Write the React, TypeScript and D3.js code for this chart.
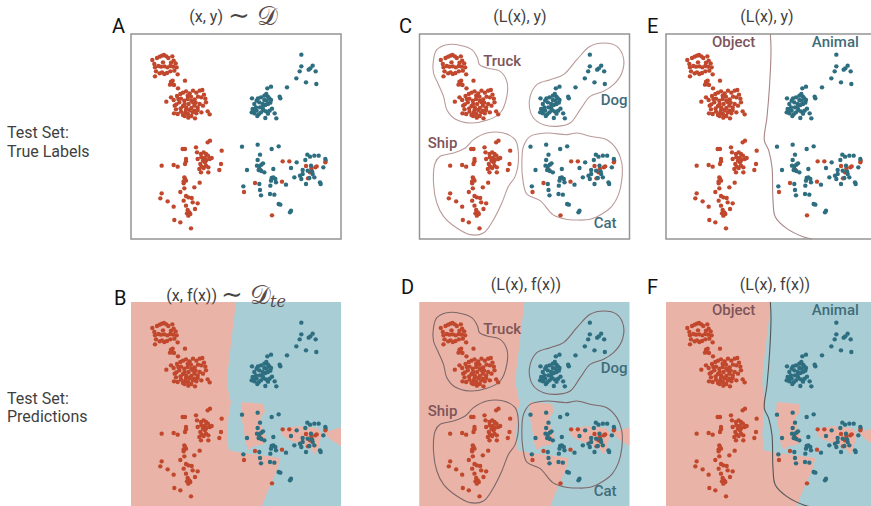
import * as d3 from "d3";

const W = 871;
const H = 506;
const PW = 210;
const PH = 205;

// embedding coordinates (same layout in every panel), domain 0..630 x 0..615
const truckPts = [
  [64,78],[78,72],[86,68],[93,65],[99,63],[106,67],[112,72],[124,67],[128,80],[134,88],[137,100],[127,98],[118,96],[109,100],[100,97],[90,98],[82,96],[72,100],[70,90],[75,112],[72,127],[86,118],[93,115],[100,120],[108,117],[118,112],[130,110],[140,121],[120,86],[96,85],
  [120,143],[125,140],[117,152],[123,150],[129,153],[162,140],[141,163],
  [106,203],[120,190],[128,198],[138,186],[148,180],[156,176],[165,172],[176,178],[186,170],[196,176],[206,170],[214,168],[219,182],[223,194],[211,190],[201,188],[191,196],[181,200],[170,195],[160,200],[150,194],[145,205],[136,211],[131,215],[135,226],[129,238],[140,240],[150,233],[156,243],[163,235],[171,240],[176,228],[181,222],[190,215],[200,220],[206,210],[216,215],[225,205],[211,235],[196,238],[192,253],[181,246],[166,221],[156,216],[149,223],[161,210],[173,210],[186,205],[194,206],[230,232],[236,241],[172,251],[161,246],[190,230],[200,228],[170,185],[180,188],[142,195],[165,228],[185,235],
];
const shipPts = [
  [237,320],[230,325],[155,345],[162,345],[195,340],[198,355],[210,360],[218,355],[225,360],[231,365],[221,372],[211,370],[216,380],[226,378],[236,375],[242,372],[272,350],[270,390],[265,408],[165,375],[165,382],[162,390],[208,390],[212,398],[218,402],[225,395],[232,400],[205,405],[210,415],[232,415],[92,395],[128,393],[140,398],[160,430],[162,435],[158,442],[165,440],[158,448],[206,446],[190,460],[160,463],[148,474],[92,478],[88,493],[110,502],[128,518],[165,486],[172,490],[182,492],[158,500],[185,505],[200,508],[192,525],[170,528],[175,535],[168,538],[178,540],[172,545],[165,515],[130,558],[148,565],[180,583],[222,385],[200,375],
];
const dogPts = [
  [511,62],[511,97],[506,112],[533,107],[545,95],[538,103],[554,112],[496,133],[525,145],[556,150],[468,160],[446,188],[448,193],[409,163],[420,158],[363,193],[381,193],[390,190],[400,185],[406,180],[411,188],[415,193],[420,198],[418,206],[411,210],[403,213],[395,210],[385,205],[377,200],[370,210],[365,225],[362,235],[370,238],[377,230],[383,241],[390,235],[397,228],[405,232],[411,239],[416,230],[423,224],[403,252],[436,253],[431,238],[375,220],[387,220],[395,222],[370,229],[379,246],[407,200],[400,198],
];
const catTealPts = [
  [333,338],[380,332],[422,345],[443,337],[387,362],[380,378],[378,395],[385,397],[391,392],[396,388],[383,408],[391,411],[400,415],[427,405],[348,408],[422,432],[427,430],[433,435],[420,440],[435,445],[418,455],[465,452],[490,430],[507,425],[511,435],[497,385],[480,402],[515,408],[523,378],[529,362],[537,368],[550,365],[563,365],[583,375],[577,400],[540,395],[543,412],[550,430],[535,432],[525,450],[567,445],[569,450],[337,457],[385,450],[387,468],[390,484],[417,480],[430,482],[443,510],[448,512],[477,535],[480,530],[530,410],[545,420],[515,420],
];
const catRedPts = [
  [455,382],[475,382],[388,408],[372,447],[339,474],[453,443],[423,544],[525,396],[541,404],[553,400],[557,397],[531,433],[584,380],[583,385],[537,415],
];

const redPts = [...truckPts, ...shipPts, ...catRedPts];
const tealPts = [...dogPts, ...catTealPts];

// cluster outlines in L(x) space
const truckOutline = [[42,77],[52,47],[82,32],[127,35],[157,47],[174,72],[180,92],[202,102],[242,112],[262,142],[262,187],[242,237],[202,259],[152,267],[107,255],[82,227],[72,187],[57,152],[42,117]];
const dogOutline = [[332,187],[352,152],[392,137],[432,122],[472,77],[512,37],[552,27],[592,37],[612,72],[607,117],[582,152],[552,172],[512,187],[482,227],[452,267],[412,277],[372,272],[342,252],[330,222]];
const shipOutline = [[47,387],[62,367],[102,357],[137,342],[162,317],[202,297],[252,297],[287,317],[297,367],[287,427],[267,457],[247,507],[222,557],[192,597],[152,602],[112,582],[72,547],[52,507],[42,447]];
const catOutline = [[312,337],[332,307],[382,297],[442,302],[472,297],[512,307],[562,317],[592,347],[607,387],[607,437],[597,482],[577,517],[547,540],[512,556],[472,558],[432,554],[400,542],[362,500],[322,480],[310,437],[307,387]];

const clusterNames = ["Truck", "Dog", "Ship", "Cat"];
const clusterKinds = ["object", "animal", "object", "animal"];
const clusterOutlines = [truckOutline, dogOutline, shipOutline, catOutline];
const clusterLabelAt = [[248,96],[584,213],[69,342],[557,582]];

const superNames = ["Object", "Animal"];
const superKinds = ["object", "animal"];
const superLabelAt = [[203,40],[508,40]];
const superSplit = [[313,0],[315,49],[311,149],[303,249],[295,319],[308,349],[318,399],[321,499],[328,549],[363,584],[413,609],[438,615]];

// regions predicted as "object" by f
const predRedRegions = [
  [[0,0],[315,0],[310,40],[303,100],[296,160],[290,210],[289,250],[296,285],[300,300],[293,340],[289,400],[293,445],[330,452],[380,458],[448,468],[440,500],[422,540],[405,580],[392,615],[0,615]],
  [[332,300],[398,306],[402,330],[388,348],[395,380],[405,410],[395,428],[368,432],[352,445],[343,420],[338,380],[330,340]],
  [[455,382],[500,372],[530,376],[560,378],[572,395],[562,440],[552,458],[535,432],[505,425],[470,412],[452,398]],
  [[578,392],[630,376],[630,432],[600,414]],
];

const RED = "#c1482d";
const TEAL = "#2d6e80";
const RED_BG = "#e9b4a7";
const TEAL_BG = "#a9cdd5";
const TXT = "#3f3f3f";
const OBJ_TXT = "#7e545a";
const ANI_TXT = "#3f6c79";
const FONT = "Roboto, 'Noto Sans', sans-serif";
const MATH = "'DejaVu Serif', serif";

function Panel({ x0, y0, pred, clusters, split, lineColor, frame }) {
  const sx = d3.scaleLinear([0, 630], [x0, x0 + PW]);
  const sy = d3.scaleLinear([0, 615], [y0, y0 + PH]);
  const poly = d3.line((d) => sx(d[0]), (d) => sy(d[1])).curve(d3.curveLinearClosed);
  const blob = d3.line((d) => sx(d[0]), (d) => sy(d[1])).curve(d3.curveCatmullRomClosed.alpha(0.5));
  const open = d3.line((d) => sx(d[0]), (d) => sy(d[1])).curve(d3.curveCatmullRom.alpha(0.5));
  return (
    <g>
      {pred ? (
        <g>
          <rect x={x0} y={y0} width={PW} height={PH} fill={TEAL_BG} />
          {predRedRegions.map((r, i) => (
            <path key={i} d={poly(r)} fill={RED_BG} />
          ))}
        </g>
      ) : (
        <rect x={x0} y={y0} width={PW} height={PH} fill="#fff" />
      )}
      {clusters &&
        clusterOutlines.map((o, i) => (
          <path key={i} d={blob(o)} fill="none" stroke={lineColor} strokeWidth={1.1} />
        ))}
      {split && <path d={open(superSplit)} fill="none" stroke={lineColor} strokeWidth={1.1} />}
      <g fill={RED}>
        {redPts.map((d, i) => (
          <circle key={i} cx={sx(d[0])} cy={sy(d[1])} r={2.2} />
        ))}
      </g>
      <g fill={TEAL}>
        {tealPts.map((d, i) => (
          <circle key={i} cx={sx(d[0])} cy={sy(d[1])} r={2.2} />
        ))}
      </g>
      {clusters &&
        clusterNames.map((n, i) => (
          <text key={n} x={sx(clusterLabelAt[i][0])} y={sy(clusterLabelAt[i][1])} textAnchor="middle"
            fontFamily={FONT} fontSize={15} fontWeight={500}
            fill={clusterKinds[i] === "object" ? OBJ_TXT : ANI_TXT}>{n}</text>
        ))}
      {split &&
        superNames.map((n, i) => (
          <text key={n} x={sx(superLabelAt[i][0])} y={sy(superLabelAt[i][1])} textAnchor="middle"
            fontFamily={FONT} fontSize={15} fontWeight={500}
            fill={superKinds[i] === "object" ? OBJ_TXT : ANI_TXT}>{n}</text>
        ))}
      {frame && <rect x={x0} y={y0} width={PW} height={PH} fill="none" stroke="#949494" strokeWidth={1.5} />}
    </g>
  );
}

function Letter({ x, y, c }) {
  return <text x={x} y={y} fontFamily={FONT} fontSize={20} fill="#111">{c}</text>;
}

function Title({ x, y, t }) {
  return <text x={x} y={y} textAnchor="middle" fontFamily={FONT} fontSize={16} fill={TXT}>{t}</text>;
}

export default function App() {
  return (
    <svg width={W} height={H} style={{ position: "absolute", left: 0, top: 0, background: "#fff" }}>
      <g fontFamily={FONT} fontSize={16} fill={TXT}>
        <text x={7} y={138}>Test Set:</text>
        <text x={7} y={157}>True Labels</text>
        <text x={7} y={404}>Test Set:</text>
        <text x={7} y={422}>Predictions</text>
      </g>

      <Panel x0={131} y0={34} frame />
      <Panel x0={419.5} y0={34} frame clusters lineColor="#b99b99" />
      <Panel x0={666} y0={34} frame split lineColor="#a88587" />
      <Panel x0={131} y0={302} pred />
      <Panel x0={419.5} y0={302} pred clusters lineColor="#7d6769" />
      <Panel x0={666} y0={302} pred split lineColor="#555" />

      <Letter x={112} y={33} c="A" />
      <Letter x={399} y={33} c="C" />
      <Letter x={647} y={33} c="E" />
      <Letter x={114} y={305} c="B" />
      <Letter x={401} y={294} c="D" />
      <Letter x={647} y={294} c="F" />

      <text x={223} y={22} textAnchor="end" fontFamily={FONT} fontSize={16} fill={TXT}>(x, y)</text>
      <text x={228} y={24} fontFamily={MATH} fontSize={26} fill="#444">∼</text>
      <text x={257} y={25} fontFamily={MATH} fontSize={26} fill="#5a4a4a">𝒟</text>

      <text x={217} y={301} textAnchor="end" fontFamily={FONT} fontSize={16} fill={TXT}>(x, f(x))</text>
      <text x={221} y={303} fontFamily={MATH} fontSize={26} fill="#444">∼</text>
      <text x={250} y={304} fontFamily={MATH} fontSize={26} fill="#5a4a4a">𝒟</text>
      <text x={270} y={307} fontFamily={MATH} fontStyle="italic" fontSize={16} fill="#5a4a4a">te</text>

      <Title x={520} y={22} t="(L(x), y)" />
      <Title x={767} y={22} t="(L(x), y)" />
      <Title x={526} y={290} t="(L(x), f(x))" />
      <Title x={775} y={290} t="(L(x), f(x))" />
    </svg>
  );
}
